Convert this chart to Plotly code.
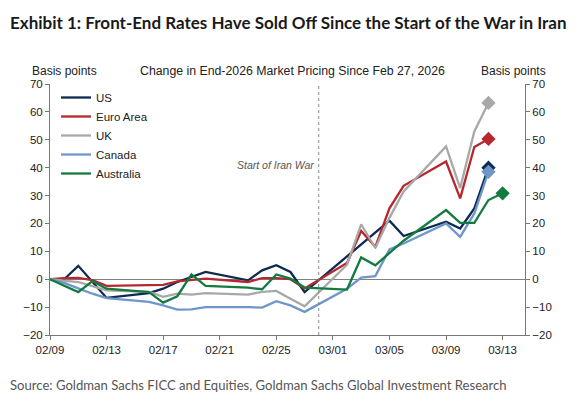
import plotly.graph_objects as go

dates = ["2026-02-09", "2026-02-10", "2026-02-11", "2026-02-12", "2026-02-13",
         "2026-02-16", "2026-02-17", "2026-02-18", "2026-02-19", "2026-02-20",
         "2026-02-23", "2026-02-24", "2026-02-25", "2026-02-26", "2026-02-27",
         "2026-03-02", "2026-03-03", "2026-03-04", "2026-03-05", "2026-03-06",
         "2026-03-09", "2026-03-10", "2026-03-11", "2026-03-12", "2026-03-13"]

us = [0, 0, 4.8, -1, -6.7, -5, -3.4, -1, 0.8, 2.6, -0.4, 3.2, 5, 2.6, -4.6,
      8.3, 12.5, 16.8, 21, 15.5, 20.6, 18.2, 25.4, 40]
euro_area = [0, 0.4, 0.5, -0.3, -2.4, -2, -2, -0.8, -0.3, 0.2, -1, 0.4, 0.4, 0, -3.3,
             5.8, 17.3, 11.6, 25.4, 33.5, 42.2, 29, 47.4, 50.3]
uk = [0, -0.5, -1, -2.5, -4, -4.5, -6.3, -5.2, -5.5, -5, -5.5, -4.5, -4.2, -7, -9.7,
      5.2, 19.7, 11.2, 22, 31.5, 47.6, 32.7, 53, 63.2]
canada = [0, -1.3, -3.3, -5.2, -6.8, -8.1, -9.4, -10.9, -10.8, -10, -10, -10.2, -7.9, -9.4, -11.7,
          -3.4, 0.6, 1.1, 10.7, 12.8, 20, 15.2, 23.6, 38.5]
australia = [0, -2.3, -4.6, -0.7, -3.4, -4.6, -8.4, -6.1, 1.7, -2.4, -3, -3.6, 1.7, 0.2, -3,
             -3.7, 7.8, 5, 9.3, 13.8, 24.8, 20.2, 20.2, 28.4, 30.8]

series = [("US", us, "#0c2a52"),
          ("Euro Area", euro_area, "#b5282e"),
          ("UK", uk, "#a8a8a8"),
          ("Canada", canada, "#6f96c9"),
          ("Australia", australia, "#137a40")]

y_ticks = [-20, -10, 0, 10, 20, 30, 40, 50, 60, 70]
war_start = "2026-02-28"

# plot area in pixels
L, R, T, B = 50, 525, 84, 335


def px(x):
    return (x - L) / (R - L)


def py(y):
    return (B - y) / (B - T)


fig = go.Figure()
for name, vals, color in series:
    fig.add_trace(go.Scatter(x=dates[:len(vals)], y=vals, name=name, mode="lines",
                             line=dict(color=color, width=2.3)))
for name, vals, color in series:
    fig.add_trace(go.Scatter(x=[dates[len(vals) - 1]], y=[vals[-1]], mode="markers",
                             marker=dict(symbol="diamond", size=11, color=color),
                             showlegend=False, yaxis="y2", hoverinfo="skip"))

arial = "Liberation Sans, Arial"
axis_font = dict(family=arial, size=11.5, color="#222")
yax = dict(range=[-20, 70], tickvals=y_ticks, ticks="outside", ticklen=4,
           tickcolor="#777", showline=True, linecolor="#777", linewidth=1,
           showgrid=False, tickfont=axis_font)

fig.update_layout(
    width=584, height=404,
    margin=dict(l=L, r=584 - R, t=T, b=404 - B),
    paper_bgcolor="white", plot_bgcolor="white",
    xaxis=dict(type="date", range=["2026-02-09", "2026-03-14 14:00"],
               tick0="2026-02-09", dtick=4 * 86400000, tickformat="%m/%d",
               ticks="outside", ticklen=4, tickcolor="#777", showline=True,
               linecolor="#777", showgrid=False, zeroline=False, tickfont=axis_font),
    yaxis=dict(**yax, zeroline=True, zerolinecolor="#808080", zerolinewidth=1),
    yaxis2=dict(**yax, overlaying="y", side="right", zeroline=False),
    legend=dict(x=px(56), y=py(83), xanchor="left", yanchor="top",
                bgcolor="rgba(0,0,0,0)", font=dict(family=arial, size=11.5, color="#222"),
                itemwidth=30, tracegroupgap=0),
    showlegend=True,
)

fig.add_shape(type="line", xref="x", yref="paper", x0=war_start, x1=war_start,
              y0=0, y1=1, line=dict(color="#888", width=1, dash="dot"))

fig.add_annotation(x=war_start, y=41, xref="x", yref="y", text="<i>Start of Iran War</i>",
                   showarrow=False, xanchor="right", xshift=-3,
                   font=dict(family=arial, size=10.5, color="#555"))

fig.add_annotation(x=px(8), y=py(22), xref="paper", yref="paper",
                   text="<b>Exhibit 1: Front-End Rates Have Sold Off Since the Start of the War in Iran</b>",
                   showarrow=False, xanchor="left", yanchor="middle",
                   font=dict(family="Lato", size=17.0, color="#1a1a1a"))
fig.add_annotation(x=px(292), y=py(71), xref="paper", yref="paper",
                   text="Change in End-2026 Market Pricing Since Feb 27, 2026",
                   showarrow=False, xanchor="center", yanchor="middle",
                   font=dict(family=arial, size=12.3, color="#222"))
fig.add_annotation(x=px(30), y=py(71), xref="paper", yref="paper", text="Basis points",
                   showarrow=False, xanchor="left", yanchor="middle",
                   font=dict(family=arial, size=12, color="#222"))
fig.add_annotation(x=px(548), y=py(71), xref="paper", yref="paper", text="Basis points",
                   showarrow=False, xanchor="right", yanchor="middle",
                   font=dict(family=arial, size=12, color="#222"))
fig.add_annotation(x=px(8), y=py(385), xref="paper", yref="paper",
                   text="Source: Goldman Sachs FICC and Equities, Goldman Sachs Global Investment Research",
                   showarrow=False, xanchor="left", yanchor="middle",
                   font=dict(family="Lato", size=13.1, color="#555"))

# drop the default page margin so the figure sits at the window corner
fig.write_html("out.html", config={"displayModeBar": False},
               post_script="document.body.style.margin='0';")
